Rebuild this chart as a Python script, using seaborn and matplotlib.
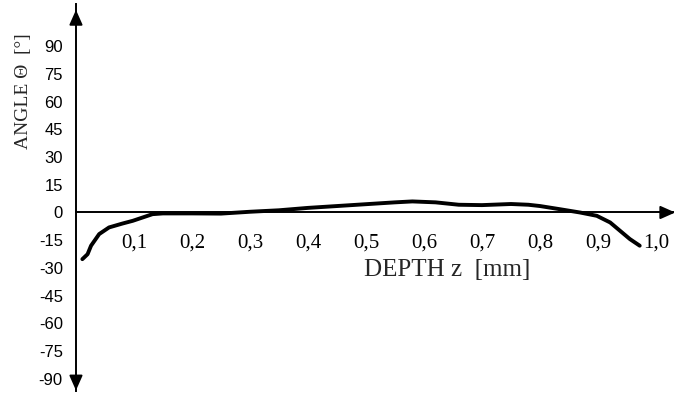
import matplotlib
matplotlib.use("Agg")
import matplotlib.pyplot as plt
import seaborn as sns

# curve
depth = [0.011, 0.020, 0.026, 0.040, 0.057, 0.080, 0.098, 0.115, 0.132, 0.150,
         0.200, 0.250, 0.300, 0.350, 0.400, 0.450, 0.500, 0.550, 0.580, 0.620,
         0.660, 0.700, 0.750, 0.780, 0.800, 0.834, 0.869, 0.898, 0.921, 0.938,
         0.955, 0.972]
angle = [-25.3, -22.6, -18.0, -11.7, -8.1, -6.0, -4.5, -2.7, -0.9, -0.5,
         -0.5, -0.6, 0.4, 1.2, 2.5, 3.5, 4.5, 5.5, 6.0, 5.5,
         4.2, 4.0, 4.6, 4.2, 3.5, 1.8, 0.0, -1.8, -5.4, -9.9,
         -14.4, -18.0]

x_ticks = [0.1, 0.2, 0.3, 0.4, 0.5, 0.6, 0.7, 0.8, 0.9, 1.0]
x_labels = ["0,1", "0,2", "0,3", "0,4", "0,5", "0,6", "0,7", "0,8", "0,9", "1,0"]
y_ticks = [90, 75, 60, 45, 30, 15, 0, -15, -30, -45, -60, -75, -90]
y_labels = ["90", "75", "60", "45", "30", "15", "0", "-15", "-30", "-45", "-60", "-75", "-90"]

sns.set_style("white")
plt.rcParams['font.family'] = ['Liberation Serif', 'DejaVu Serif']

fig = plt.figure(figsize=(6.78, 3.94), dpi=100)
ax = fig.add_axes([0, 0, 1, 1])
ax.patch.set_alpha(0)

sns.lineplot(x=depth, y=angle, sort=False, color="black", lw=2.8, ax=ax)

ax.set_xlim(-0.131, 1.038)
ax.set_ylim(-98.4, 115.2)

# axes through the origin
for s in ["top", "right"]:
    ax.spines[s].set_visible(False)
ax.spines["left"].set_position(("data", 0))
ax.spines["bottom"].set_position(("data", 0))
ax.spines["bottom"].set_bounds(0, 1.03)
ax.spines["left"].set_bounds(-97, 113)
for s in ["left", "bottom"]:
    ax.spines[s].set_color("black")
    ax.spines[s].set_linewidth(1.4)

ax.set_xticks(x_ticks)
ax.set_xticklabels(x_labels, fontsize=15)
ax.set_yticks(y_ticks)
ax.set_yticklabels(y_labels, fontsize=12, family="Liberation Sans")
ax.tick_params(axis="x", direction="inout", length=10, width=1.2, pad=10, colors="black")
ax.tick_params(axis="y", direction="inout", length=7, width=1.2, pad=6, colors="black")

# arrow heads
head = dict(arrowstyle="-|>,head_length=0.9,head_width=0.4", color="black", lw=1.4)
ax.annotate("", xy=(0, 0.982), xytext=(0, 0.93),
            xycoords=ax.get_xaxis_transform(), textcoords=ax.get_xaxis_transform(),
            arrowprops=head)
ax.annotate("", xy=(0, 0.002), xytext=(0, 0.05),
            xycoords=ax.get_xaxis_transform(), textcoords=ax.get_xaxis_transform(),
            arrowprops=head)
ax.annotate("", xy=(1.0, 0), xytext=(0.97, 0),
            xycoords=ax.get_yaxis_transform(), textcoords=ax.get_yaxis_transform(),
            arrowprops=head)

fig.text(447 / 678, 1 - 270 / 394, "DEPTH z  [mm]", fontsize=18,
         ha="center", va="center")
fig.text(24 / 678, 1 - 91 / 394, "ANGLE \u0398  [\u00b0]", fontsize=14,
         ha="center", va="center", rotation=90)

fig.savefig("out.png", dpi=100)
